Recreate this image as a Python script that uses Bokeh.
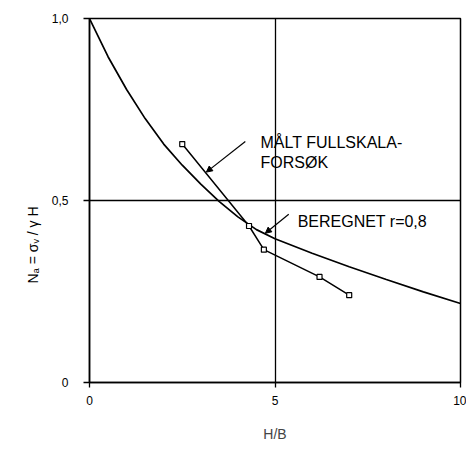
from bokeh.plotting import figure
from bokeh.models import FixedTicker, Label, Arrow, NormalHead, Range1d, Title
from bokeh.embed import file_html
from bokeh.resources import INLINE

# Calculated curve "BEREGNET r=0,8"
calc_x = [0, 0.5, 1.0, 1.5, 2.0, 2.5, 3.0, 3.5, 4.0, 4.5, 5.0, 6.0, 7.0, 8.0, 9.0, 10.0]
calc_y = [1.0, 0.895, 0.805, 0.725, 0.655, 0.597, 0.545, 0.497, 0.455, 0.420, 0.395, 0.355, 0.318, 0.283, 0.249, 0.217]

# Measured full-scale test "MÅLT FULLSKALA-FORSØK"
meas_x = [2.5, 4.3, 4.7, 6.2, 7.0]
meas_y = [0.655, 0.43, 0.365, 0.29, 0.24]

x_ticks = [0, 5, 10]
x_tick_labels = ["0", "5", "10"]
y_ticks = [0, 0.5, 1.0]
y_tick_labels = ["0", "0,5", "1,0"]

FONT = "Liberation Sans"

p = figure(width=466, height=444, output_backend="svg", toolbar_location=None,
           x_range=Range1d(0, 10), y_range=Range1d(0, 1.0),
           min_border_left=89, min_border_right=6, min_border_top=18, min_border_bottom=55)
p.background_fill_color = "white"
p.border_fill_color = "white"
p.outline_line_color = "black"
p.outline_line_width = 1.5

p.xaxis.ticker = FixedTicker(ticks=x_ticks)
p.yaxis.ticker = FixedTicker(ticks=y_ticks)
p.xaxis.major_label_overrides = {t: l for t, l in zip(x_ticks, x_tick_labels)}
p.yaxis.major_label_overrides = {t: l for t, l in zip(y_ticks, y_tick_labels)}
p.xgrid.ticker = FixedTicker(ticks=x_ticks)
p.ygrid.ticker = FixedTicker(ticks=y_ticks)
for g in (p.xgrid, p.ygrid):
    g.grid_line_color = "black"
    g.grid_line_width = 1.3
    g.grid_line_alpha = 1.0

for ax in (p.xaxis, p.yaxis):
    ax.axis_line_color = "black"
    ax.axis_line_width = 1.5
    ax.major_tick_line_color = "black"
    ax.major_tick_line_width = 1.3
    ax.major_tick_in = 0
    ax.minor_tick_line_color = None
    ax.major_label_text_font = FONT
    ax.major_label_text_font_size = "12px"
    ax.major_label_text_color = "black"
p.xaxis.major_tick_out = 5
p.yaxis.major_tick_out = 6
p.xaxis.major_label_standoff = 8
p.yaxis.major_label_standoff = 15

p.xaxis.axis_label = "H/B"
p.xaxis.axis_label_text_font = FONT
p.xaxis.axis_label_text_font_size = "14px"
p.xaxis.axis_label_text_font_style = "normal"
p.xaxis.axis_label_standoff = 18

# y axis label as a left title, placed below the frame centre as in reference
p.add_layout(Title(text="Nₐ = σᵥ / γ H", align="left", offset=99,
                   text_font=FONT, text_font_size="14px", text_font_style="normal",
                   text_color="#000000", standoff=16), "left")

# curves
p.line(calc_x, calc_y, line_color="black", line_width=1.7)
p.line(meas_x, meas_y, line_color="black", line_width=1.5)
p.scatter(meas_x, meas_y, marker="square", size=5, fill_color="white",
          line_color="black", line_width=1.2)

# annotations
p.add_layout(Label(x=4.61, y=0.658, text="MÅLT FULLSKALA-", text_font=FONT,
                   text_font_size="16px", text_color="black", text_baseline="alphabetic"))
p.add_layout(Label(x=4.61, y=0.604, text="FORSØK", text_font=FONT,
                   text_font_size="16px", text_color="black", text_baseline="alphabetic"))
p.add_layout(Label(x=5.61, y=0.442, text="BEREGNET r=0,8", text_font=FONT,
                   text_font_size="16px", text_color="black", text_baseline="alphabetic"))

p.add_layout(Arrow(end=NormalHead(size=6, fill_color="black", line_color="black"),
                   x_start=4.20, y_start=0.662, x_end=3.15, y_end=0.578,
                   line_color="black", line_width=1.2))
p.add_layout(Arrow(end=NormalHead(size=6, fill_color="black", line_color="black"),
                   x_start=5.37, y_start=0.462, x_end=4.74, y_end=0.410,
                   line_color="black", line_width=1.2))

open("out.html", "w").write(file_html(p, INLINE))
